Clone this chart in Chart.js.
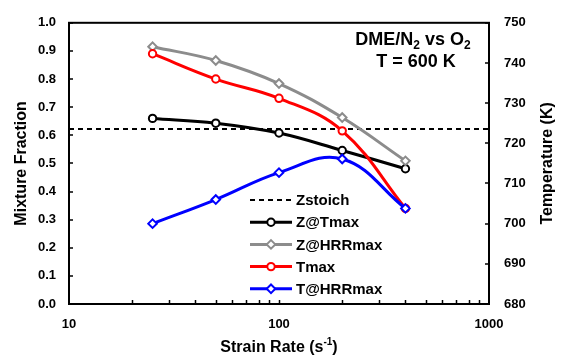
<!DOCTYPE html>
<html>
<head>
<meta charset="utf-8">
<script src="https://cdn.jsdelivr.net/npm/chart.js@4"></script>
<style>
  html, body { margin: 0; padding: 0; background: #fff; }
</style>
</head>
<body>
<canvas id="chart" width="564" height="360"></canvas>
<script>
// data
const strainRates = [25, 50, 100, 200, 400];
const zAtTmax = [0.66, 0.643, 0.608, 0.546, 0.481];
const zAtHrrMax = [0.915, 0.866, 0.784, 0.663, 0.509];
const tMax = [742.3, 736.0, 731.2, 723.1, 703.8];
const tAtHrrMax = [700.0, 706.0, 712.7, 716.1, 703.8];
const zStoich = 0.622;
const xRange = [10, 1000];
const xTickLabels = [10, 100, 1000];

const FONT = 'Liberation Sans, Arial, sans-serif';

function pts(ys) {
  return strainRates.map((x, i) => ({ x: x, y: ys[i] }));
}

const datasets = [
  {
    label: 'Zstoich', yAxisID: 'y', order: 5,
    data: xRange.map(x => ({ x: x, y: zStoich })),
    borderColor: '#000', borderWidth: 2, borderDash: [5, 4],
    pointRadius: 0, tension: 0
  },
  {
    label: 'Z@Tmax', yAxisID: 'y', order: 4,
    data: pts(zAtTmax),
    borderColor: '#000', borderWidth: 3, tension: 0.4,
    pointStyle: 'circle', pointRadius: 3.7, pointBorderWidth: 2,
    pointBackgroundColor: '#fff', pointBorderColor: '#000'
  },
  {
    label: 'Z@HRRmax', yAxisID: 'y', order: 3,
    data: pts(zAtHrrMax),
    borderColor: '#8c8c8c', borderWidth: 3, tension: 0.4,
    pointStyle: 'rectRot', pointRadius: 4.3, pointBorderWidth: 2,
    pointBackgroundColor: '#fff', pointBorderColor: '#8c8c8c'
  },
  {
    label: 'Tmax', yAxisID: 'y2', order: 2,
    data: pts(tMax),
    borderColor: '#ff0000', borderWidth: 3, tension: 0.4,
    pointStyle: 'circle', pointRadius: 3.7, pointBorderWidth: 2,
    pointBackgroundColor: '#fff', pointBorderColor: '#ff0000'
  },
  {
    label: 'T@HRRmax', yAxisID: 'y2', order: 1,
    data: pts(tAtHrrMax),
    borderColor: '#0000ff', borderWidth: 3, tension: 0.4,
    pointStyle: 'rectRot', pointRadius: 4.3, pointBorderWidth: 2,
    pointBackgroundColor: '#fff', pointBorderColor: '#0000ff'
  }
];

// frame, inward ticks, titles, legend
const extras = {
  id: 'extras',
  afterDraw(chart) {
    const ctx = chart.ctx;
    const a = chart.chartArea;
    const sx = chart.scales.x, sy = chart.scales.y, sy2 = chart.scales.y2;
    ctx.save();
    ctx.strokeStyle = '#000';
    ctx.lineWidth = 2;
    ctx.strokeRect(a.left, a.top, a.right - a.left, a.bottom - a.top);

    ctx.lineWidth = 1.5;
    ctx.beginPath();
    sy.ticks.forEach(t => {
      const p = Math.round(sy.getPixelForValue(t.value));
      ctx.moveTo(a.left, p); ctx.lineTo(a.left + 4, p);
    });
    sy2.ticks.forEach(t => {
      const p = Math.round(sy2.getPixelForValue(t.value));
      ctx.moveTo(a.right, p); ctx.lineTo(a.right - 4, p);
    });
    for (let dec = 10; dec < 1000; dec *= 10) {
      for (let m = 1; m <= 10; m++) {
        const v = dec * m;
        if (v <= xRange[0] || v >= xRange[1]) continue;
        const p = Math.round(sx.getPixelForValue(v)) + 0.5;
        ctx.moveTo(p, a.bottom); ctx.lineTo(p, a.bottom - 4);
      }
    }
    ctx.stroke();

    ctx.fillStyle = '#000';
    ctx.textBaseline = 'middle';

    // axis titles
    ctx.font = 'bold 16px ' + FONT;
    ctx.save();
    ctx.translate(22, (a.top + a.bottom) / 2);
    ctx.rotate(-Math.PI / 2);
    ctx.textAlign = 'center';
    ctx.fillText('Mixture Fraction', 0, 0);
    ctx.restore();
    ctx.save();
    ctx.translate(548, (a.top + a.bottom) / 2);
    ctx.rotate(-Math.PI / 2);
    ctx.textAlign = 'center';
    ctx.fillText('Temperature (K)', 0, 0);
    ctx.restore();

    // x title with superscript
    const xt = 'Strain Rate (s', sup = '-1', close = ')';
    ctx.font = 'bold 16px ' + FONT;
    const w1 = ctx.measureText(xt).width, w3 = ctx.measureText(close).width;
    ctx.font = 'bold 10px ' + FONT;
    const w2 = ctx.measureText(sup).width;
    let x0 = (a.left + a.right) / 2 - (w1 + w2 + w3) / 2;
    ctx.textAlign = 'left';
    ctx.font = 'bold 16px ' + FONT;
    ctx.fillText(xt, x0, 348);
    ctx.font = 'bold 10px ' + FONT;
    ctx.fillText(sup, x0 + w1, 342);
    ctx.font = 'bold 16px ' + FONT;
    ctx.fillText(close, x0 + w1 + w2, 348);

    // annotation with subscripts
    const parts = [['DME/N', 0], ['2', 1], [' vs O', 0], ['2', 1]];
    let tw = 0;
    parts.forEach(p => {
      ctx.font = (p[1] ? 'bold 12px ' : 'bold 18px ') + FONT;
      tw += ctx.measureText(p[0]).width;
    });
    let tx = 413 - tw / 2;
    parts.forEach(p => {
      ctx.font = (p[1] ? 'bold 12px ' : 'bold 18px ') + FONT;
      ctx.fillText(p[0], tx, p[1] ? 46 : 40);
      tx += ctx.measureText(p[0]).width;
    });
    ctx.font = 'bold 18px ' + FONT;
    ctx.textAlign = 'center';
    ctx.fillText('T = 600 K', 416, 62);

    // legend inside plot
    ctx.textAlign = 'left';
    ctx.font = 'bold 15px ' + FONT;
    chart.data.datasets.forEach((ds, i) => {
      const y = 200 + i * 22.2;
      const lx0 = 250, lx1 = 292, cx = (lx0 + lx1) / 2;
      ctx.save();
      ctx.strokeStyle = ds.borderColor;
      ctx.lineWidth = ds.borderWidth;
      ctx.setLineDash(ds.borderDash || []);
      ctx.beginPath();
      ctx.moveTo(lx0, y); ctx.lineTo(lx1, y);
      ctx.stroke();
      ctx.restore();
      if (ds.pointRadius) {
        ctx.save();
        ctx.fillStyle = '#fff';
        ctx.strokeStyle = ds.pointBorderColor;
        ctx.lineWidth = ds.pointBorderWidth;
        ctx.beginPath();
        const r = ds.pointRadius;
        if (ds.pointStyle === 'circle') {
          ctx.arc(cx, y, r, 0, Math.PI * 2);
        } else {
          ctx.moveTo(cx, y - r); ctx.lineTo(cx + r, y); ctx.lineTo(cx, y + r); ctx.lineTo(cx - r, y); ctx.closePath();
        }
        ctx.fill(); ctx.stroke();
        ctx.restore();
      }
      ctx.fillStyle = '#000';
      ctx.fillText(ds.label, 296, y + 1);
    });
    ctx.restore();
  }
};

new Chart(document.getElementById('chart'), {
  type: 'line',
  data: { datasets: datasets },
  options: {
    responsive: false,
    animation: false,
    layout: { padding: { top: 14, left: 0, right: 0, bottom: 0 } },
    plugins: { legend: { display: false }, tooltip: { enabled: false } },
    scales: {
      x: {
        type: 'logarithmic', min: xRange[0], max: xRange[1],
        grid: { display: false, drawTicks: false }, border: { display: false },
        afterBuildTicks: s => { s.ticks = xTickLabels.map(v => ({ value: v })); },
        afterFit: s => { s.height = 56; },
        ticks: {
          padding: 13, color: '#000', maxRotation: 0, autoSkip: false,
          font: { family: FONT, size: 13, weight: 'bold' },
          callback: v => String(v)
        }
      },
      y: {
        position: 'left', min: 0, max: 1,
        grid: { display: false, drawTicks: false }, border: { display: false },
        afterFit: s => { s.width = 69; },
        ticks: {
          stepSize: 0.1, padding: 13, color: '#000',
          font: { family: FONT, size: 13, weight: 'bold' },
          callback: v => v.toFixed(1)
        }
      },
      y2: {
        position: 'right', min: 680, max: 750,
        grid: { display: false, drawTicks: false }, border: { display: false },
        afterFit: s => { s.width = 75; },
        ticks: {
          stepSize: 10, padding: 15, color: '#000',
          font: { family: FONT, size: 13, weight: 'bold' }
        }
      }
    }
  },
  plugins: [extras]
});
</script>
</body>
</html>
